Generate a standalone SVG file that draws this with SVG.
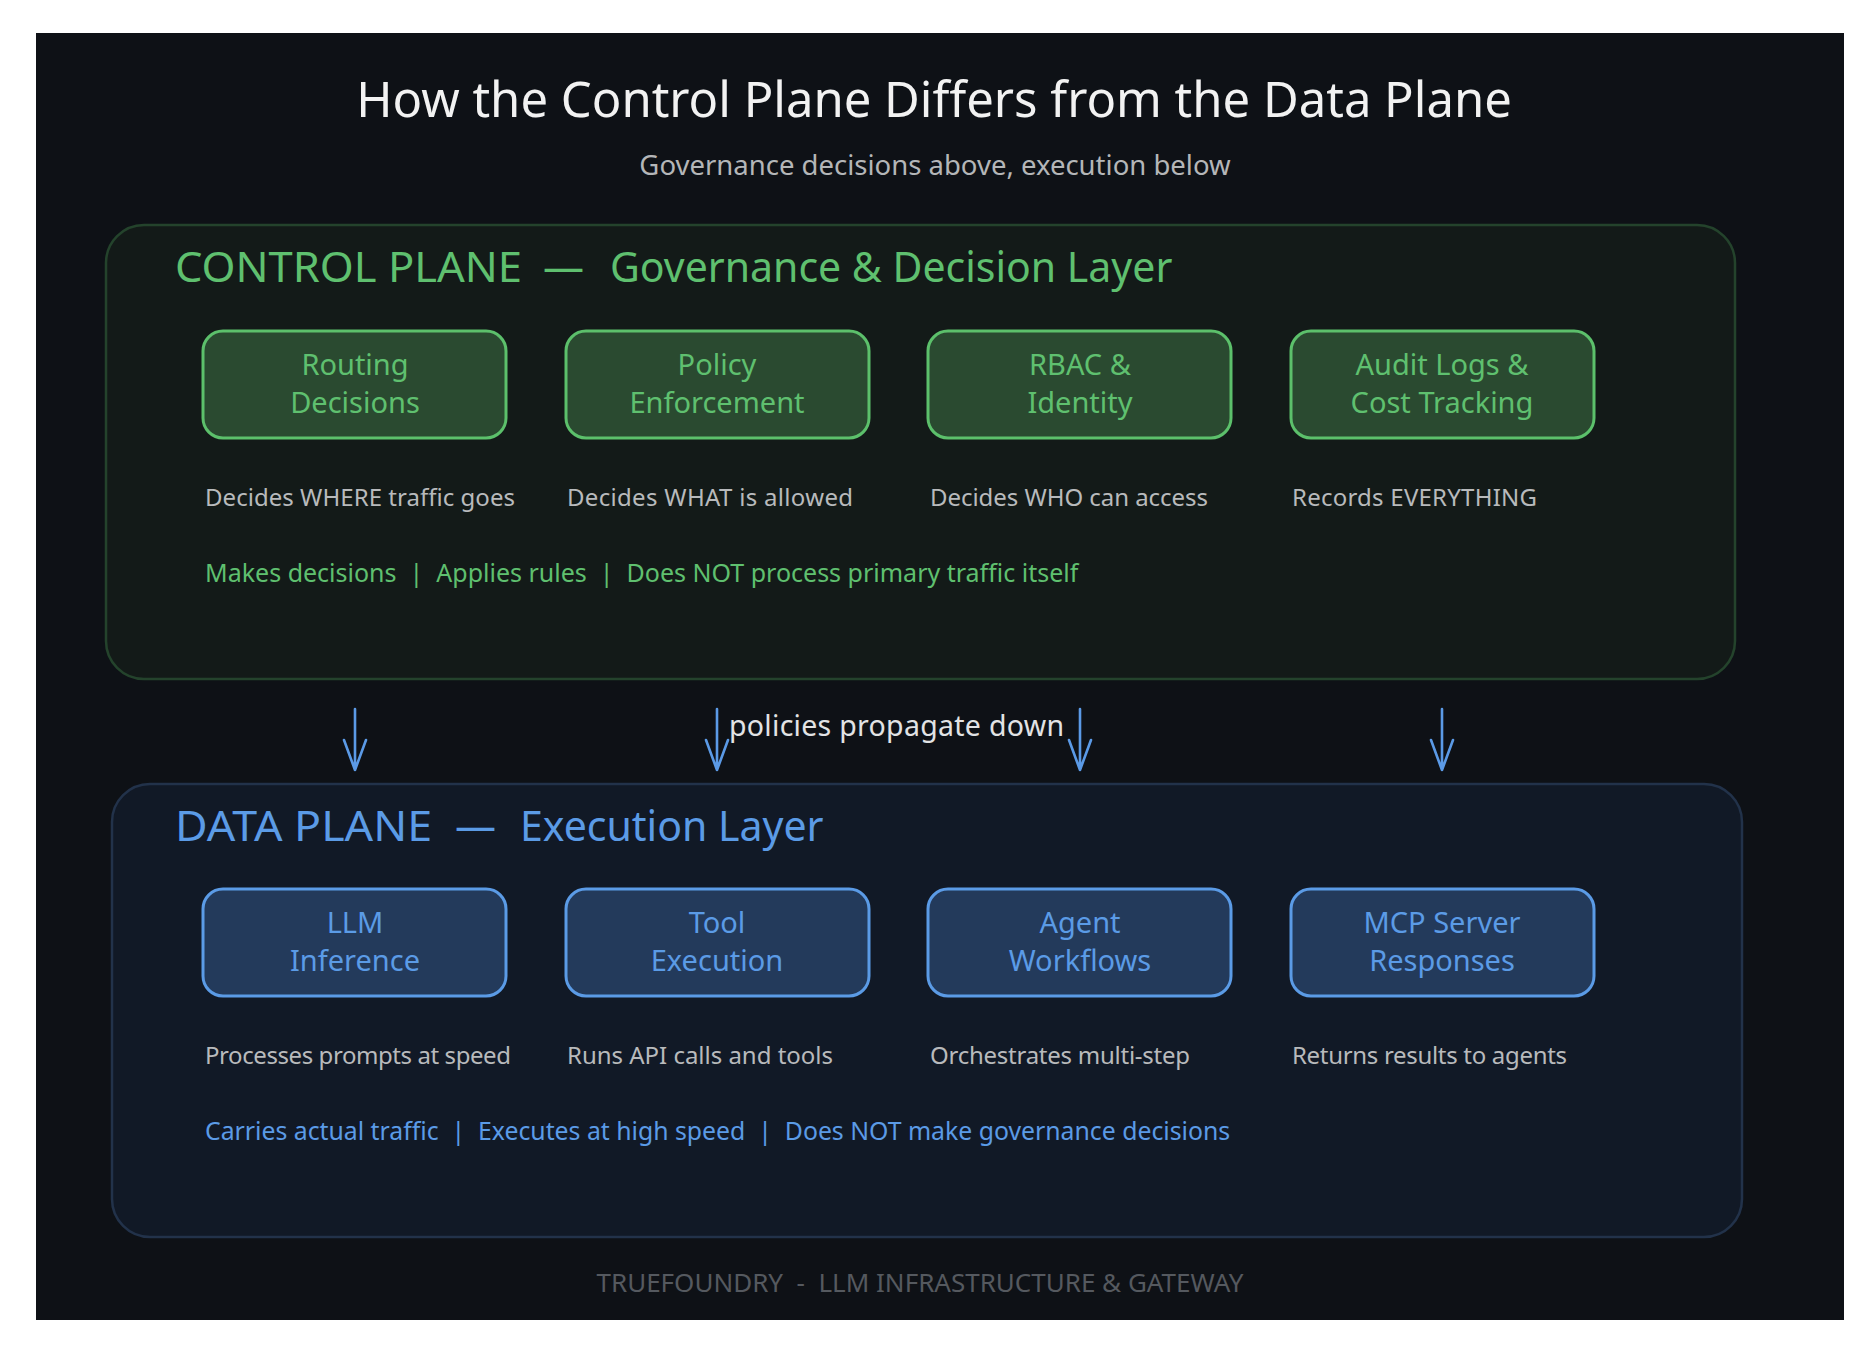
<svg xmlns="http://www.w3.org/2000/svg" width="1876" height="1350" viewBox="0 0 1876 1350">
<defs>
<style>
text{font-family:"Noto Sans","Open Sans","DejaVu Sans",sans-serif;}
.title{font-size:49px;fill:#f2f2f2;text-anchor:middle;}
.sub{font-size:27.5px;fill:#b4b6b8;text-anchor:middle;}
.hg{font-size:41px;fill:#5fc06f;}
.hb{font-size:41px;fill:#5b9be6;}
.ng{fill:#2a4a30;stroke:#5cc06b;stroke-width:3;}
.nb{fill:#233a5b;stroke:#5b9be6;stroke-width:3;}
.tg{font-size:29px;fill:#5fc06f;text-anchor:middle;}
.tb{font-size:29px;fill:#5b9be6;text-anchor:middle;}
.desc{font-size:24px;fill:#b8babc;}
.lg{font-size:25px;fill:#5fc06f;white-space:pre;}
.lb{font-size:24.8px;fill:#5b9be6;white-space:pre;}
.arrow{stroke:#5b9ae6;stroke-width:2.6;fill:none;stroke-linecap:round;stroke-linejoin:round;}
.foot{font-size:26px;fill:#55595f;text-anchor:middle;white-space:pre;}
</style>
</defs>
<rect x="0" y="0" width="1876" height="1350" fill="#ffffff"/>
<rect x="36" y="33" width="1808" height="1287" fill="#0e1116"/>
<text class="title" x="934" y="117">How the Control Plane Differs from the Data Plane</text>
<text class="sub" x="935" y="175">Governance decisions above, execution below</text>

<g id="control-plane">
<rect x="106" y="225" width="1629" height="454" rx="38" fill="#131a18" stroke="#24432c" stroke-width="2.5"/>
<text class="hg" x="175" y="282" textLength="347" lengthAdjust="spacingAndGlyphs">CONTROL PLANE</text>
<text class="hg" x="543" y="282">—</text>
<text class="hg" x="610" y="282">Governance &amp; Decision Layer</text>
<text class="lg" x="205" y="582">Makes decisions  |  Applies rules  |  Does NOT process primary traffic itself</text>
</g>

<g id="routing-decisions">
<rect class="ng" x="203" y="331" width="303" height="107" rx="20"/>
<text class="tg" x="355" y="375">Routing</text>
<text class="tg" x="355" y="413">Decisions</text>
<text class="desc" x="205" y="506" textLength="310">Decides WHERE traffic goes</text>
</g>
<g id="policy-enforcement">
<rect class="ng" x="566" y="331" width="303" height="107" rx="20"/>
<text class="tg" x="717" y="375">Policy</text>
<text class="tg" x="717" y="413">Enforcement</text>
<text class="desc" x="567" y="506" textLength="286">Decides WHAT is allowed</text>
</g>
<g id="rbac-identity">
<rect class="ng" x="928" y="331" width="303" height="107" rx="20"/>
<text class="tg" x="1080" y="375">RBAC &amp;</text>
<text class="tg" x="1080" y="413">Identity</text>
<text class="desc" x="930" y="506" textLength="278">Decides WHO can access</text>
</g>
<g id="audit-logs">
<rect class="ng" x="1291" y="331" width="303" height="107" rx="20"/>
<text class="tg" x="1442" y="375">Audit Logs &amp;</text>
<text class="tg" x="1442" y="413">Cost Tracking</text>
<text class="desc" x="1292" y="506" textLength="245">Records EVERYTHING</text>
</g>

<g id="connectors">
<path class="arrow" d="M355 709 L355 770 M344 740 L355 770 L366 740"/>
<path class="arrow" d="M717 709 L717 770 M706 740 L717 770 L728 740"/>
<path class="arrow" d="M1080 709 L1080 770 M1069 740 L1080 770 L1091 740"/>
<path class="arrow" d="M1442 709 L1442 770 M1431 740 L1442 770 L1453 740"/>
<text x="729" y="736" font-size="28.5" fill="#e2e3e5" textLength="335">policies propagate down</text>
</g>

<g id="data-plane">
<rect x="112" y="784" width="1630" height="453" rx="38" fill="#111926" stroke="#22324a" stroke-width="2.5"/>
<text class="hb" x="175" y="841" textLength="257" lengthAdjust="spacingAndGlyphs">DATA PLANE</text>
<text class="hb" x="455" y="841">—</text>
<text class="hb" x="520" y="841">Execution Layer</text>
<text class="lb" x="205" y="1140">Carries actual traffic  |  Executes at high speed  |  Does NOT make governance decisions</text>
</g>

<g id="llm-inference">
<rect class="nb" x="203" y="889" width="303" height="107" rx="20"/>
<text class="tb" x="355" y="933">LLM</text>
<text class="tb" x="355" y="971">Inference</text>
<text class="desc" x="205" y="1064" textLength="306">Processes prompts at speed</text>
</g>
<g id="tool-execution">
<rect class="nb" x="566" y="889" width="303" height="107" rx="20"/>
<text class="tb" x="717" y="933">Tool</text>
<text class="tb" x="717" y="971">Execution</text>
<text class="desc" x="567" y="1064" textLength="266">Runs API calls and tools</text>
</g>
<g id="agent-workflows">
<rect class="nb" x="928" y="889" width="303" height="107" rx="20"/>
<text class="tb" x="1080" y="933">Agent</text>
<text class="tb" x="1080" y="971">Workflows</text>
<text class="desc" x="930" y="1064" textLength="260">Orchestrates multi-step</text>
</g>
<g id="mcp-server">
<rect class="nb" x="1291" y="889" width="303" height="107" rx="20"/>
<text class="tb" x="1442" y="933">MCP Server</text>
<text class="tb" x="1442" y="971">Responses</text>
<text class="desc" x="1292" y="1064" textLength="275">Returns results to agents</text>
</g>

<text class="foot" x="920" y="1292">TRUEFOUNDRY  -  LLM INFRASTRUCTURE &amp; GATEWAY</text>
</svg>
